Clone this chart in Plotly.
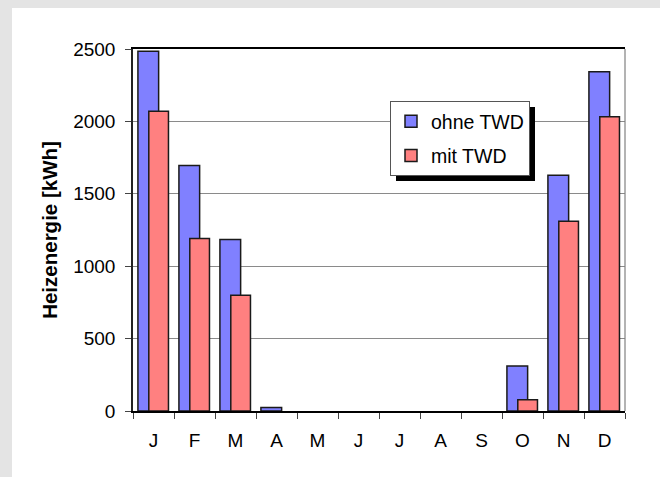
import plotly.graph_objects as go

months = ["J", "F", "M", "A", "M", "J", "J", "A", "S", "O", "N", "D"]
ohne_twd = [2485, 1695, 1185, 25, 0, 0, 0, 0, 0, 310, 1628, 2343]
mit_twd = [2070, 1192, 800, 0, 0, 0, 0, 0, 0, 78, 1311, 2032]
y_ticks = [0, 500, 1000, 1500, 2000, 2500]

x_pos = list(range(len(months)))
bounds = [i - 0.5 for i in range(len(months) + 1)]

FONT = "Liberation Sans, Arial, sans-serif"
W, H = 660, 477
L, R, T, B = 133, 35, 49, 66
pw, ph = W - L - R, H - T - B


def px_x(p):
    return (p - L) / pw


def px_y(p):
    return (H - B - p) / ph


def nonzero(vals):
    return [v if v > 0 else None for v in vals]


fig = go.Figure()
fig.add_trace(go.Bar(
    x=x_pos, y=nonzero(ohne_twd), name="ohne TWD", legendgroup="a",
    offset=-0.38, width=0.505,
    marker=dict(color="#8080ff", line=dict(color="#1a1a1a", width=1.5)),
))
fig.add_trace(go.Bar(
    x=x_pos, y=nonzero(mit_twd), name="mit TWD", legendgroup="b",
    offset=-0.115, width=0.48,
    marker=dict(color="#ff8080", line=dict(color="#1a1a1a", width=1.5)),
))

LEG_L, LEG_T, LEG_W, LEG_H, SH = 390, 101, 139, 74, 6

shapes = [
    # white panel on gray page
    dict(type="rect", xref="paper", yref="paper", layer="below",
         x0=px_x(12), x1=px_x(W + 5), y0=px_y(H + 5), y1=px_y(8),
         fillcolor="white", line=dict(width=0)),
    # right border of plot area
    dict(type="line", xref="paper", yref="paper", x0=1, x1=1, y0=0, y1=1,
         line=dict(color="#808080", width=1.2)),
    # legend shadow
    dict(type="rect", xref="paper", yref="paper", layer="above",
         x0=px_x(LEG_L + SH), x1=px_x(LEG_L + LEG_W + SH),
         y0=px_y(LEG_T + LEG_H + SH), y1=px_y(LEG_T + SH),
         fillcolor="black", line=dict(width=0)),
]

fig.update_layout(
    width=W, height=H,
    margin=dict(l=L, r=R, t=T, b=B, autoexpand=False),
    paper_bgcolor="#e4e4e4",
    plot_bgcolor="white",
    barmode="overlay",
    showlegend=True,
    font=dict(family=FONT, size=19, color="black"),
    legend=dict(
        x=px_x(LEG_L), y=px_y(LEG_T), xanchor="left", yanchor="top",
        bgcolor="white", bordercolor="#555", borderwidth=1,
        font=dict(family=FONT, size=19.5, color="black"),
        tracegroupgap=6, traceorder="grouped",
    ),
    shapes=shapes,
    xaxis=dict(
        range=[-0.5, 11.5], tickmode="array", tickvals=x_pos, ticktext=months,
        ticks="", showgrid=False, zeroline=False,
        showline=True, linecolor="black", linewidth=1.5, mirror=True,
        ticklabelstandoff=11,
        tickfont=dict(family=FONT, size=19, color="black"),
        minor=dict(tickmode="array", tickvals=bounds, ticks="outside",
                   ticklen=6, tickcolor="#444", tickwidth=1.2, showgrid=False),
    ),
    xaxis2=dict(
        overlaying="x", anchor="y", side="bottom",
        range=[-0.5, 11.5], tickmode="array", tickvals=bounds,
        ticks="inside", ticklen=6, tickcolor="#444", tickwidth=1.2,
        showticklabels=False, showgrid=False, zeroline=False, showline=False,
    ),
    yaxis=dict(
        range=[0, 2500], tickmode="array", tickvals=y_ticks,
        ticks="outside", ticklen=6, tickcolor="#444", tickwidth=1.2,
        showgrid=True, gridcolor="#8a8a8a", gridwidth=1,
        zeroline=False, showline=True, linecolor="#222", linewidth=1.5,
        ticklabelstandoff=6,
        tickfont=dict(family=FONT, size=19, color="black"),
        title=dict(text="<b>Heizenergie [kWh]</b>", standoff=10,
                   font=dict(family=FONT, size=20.5, color="black")),
    ),
)

fig.write_html(
    "out.html",
    config={"displayModeBar": False},
    post_script="document.body.style.margin='0px';document.body.style.overflow='hidden';",
)
